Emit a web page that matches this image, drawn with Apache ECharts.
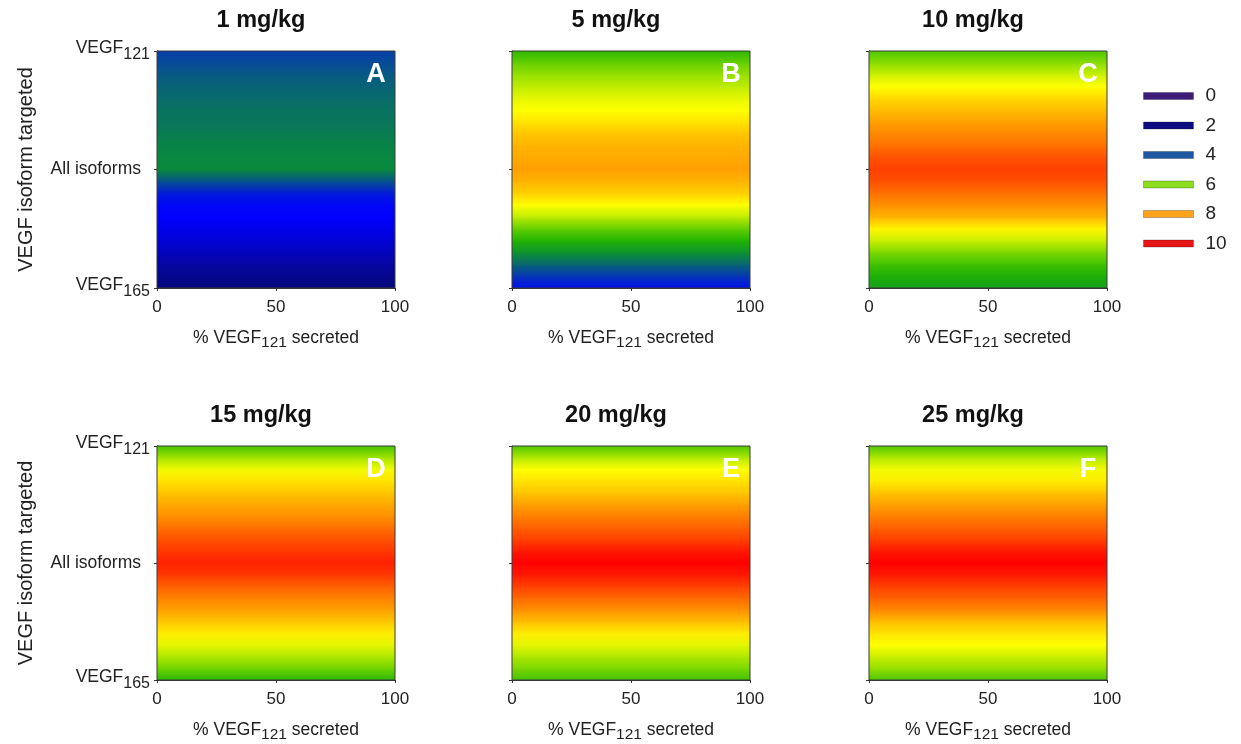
<!DOCTYPE html>
<html>
<head>
<meta charset="utf-8">
<script src="https://cdn.jsdelivr.net/npm/echarts@6.0.0/dist/echarts.min.js"></script>
<style>
  html, body { margin: 0; padding: 0; background: #fff; }
  #chart { width: 1241px; height: 744px; }
</style>
</head>
<body>
<div id="chart"></div>
<script>
// y position of each sampled row: 0 = VEGF165, 1 = all isoforms, 2 = VEGF121
const rowPos = [0, 0.1, 0.2, 0.3, 0.4, 0.5, 0.6, 0.7, 0.8, 0.9, 1.0,
                1.1, 1.2, 1.3, 1.4, 1.5, 1.6, 1.7, 1.8, 1.9, 2.0];

const doseNames = ['1 mg/kg', '5 mg/kg', '10 mg/kg', '15 mg/kg', '20 mg/kg', '25 mg/kg'];
const panelLetters = ['A', 'B', 'C', 'D', 'E', 'F'];

// values, bottom (VEGF165) to top (VEGF121)
const dose1  = [2.0, 2.15, 2.3, 2.5, 2.7, 2.85, 3.0, 3.05, 3.2, 3.6, 4.3,
                4.25, 4.2, 4.1, 4.0, 3.95, 3.85, 3.75, 3.65, 3.55, 3.45];
const dose5  = [3.1, 3.4, 3.8, 4.5, 5.2, 5.8, 6.5, 7.0, 7.5, 7.8, 8.0,
                7.9, 7.8, 7.6, 7.3, 7.0, 6.8, 6.5, 6.2, 5.8, 5.3];
const dose10 = [4.8, 5.1, 5.5, 6.0, 6.6, 7.1, 7.8, 8.2, 8.6, 9.0, 9.2,
                9.0, 8.6, 8.3, 8.0, 7.7, 7.4, 7.0, 6.6, 6.1, 5.6];
const dose15 = [5.3, 5.9, 6.4, 6.8, 7.2, 7.6, 8.0, 8.4, 8.8, 9.3, 9.6,
                9.3, 9.0, 8.6, 8.2, 7.9, 7.6, 7.3, 6.9, 6.3, 5.5];
const dose20 = [5.5, 6.0, 6.4, 6.8, 7.2, 7.7, 8.2, 8.7, 9.2, 9.7, 10.0,
                9.7, 9.2, 8.8, 8.4, 8.0, 7.6, 7.3, 7.0, 6.4, 5.6];
const dose25 = [5.6, 6.2, 6.6, 7.0, 7.3, 7.7, 8.3, 8.8, 9.2, 9.7, 10.0,
                9.7, 9.2, 8.8, 8.4, 8.0, 7.6, 7.2, 6.9, 6.4, 5.6];
const panelValues = [dose1, dose5, dose10, dose15, dose20, dose25];

const xTicks = [0, 50, 100];

const legendLevels = ['0', '2', '4', '6', '8', '10'];
const legendColors = ['#3c1c78', '#0e0e82', '#1f58a2', '#8cde1e', '#ffa31c', '#e81616'];

// colour scale used for the bands
const scaleVals   = [0, 2, 3, 3.7, 4.3, 5.2, 6, 7, 8, 9, 10];
const scaleColors = ['#3c1a78', '#06087a', '#0000ff', '#08607a', '#088a3c',
                     '#20b400', '#7cd800', '#ffff00', '#ffa000', '#ff5000', '#ff0000'];

function colorOf(v) {
  for (let i = 0; i < scaleVals.length - 1; i++) {
    if (v <= scaleVals[i + 1]) {
      const t = Math.max(0, (v - scaleVals[i]) / (scaleVals[i + 1] - scaleVals[i]));
      return echarts.color.lerp(t, [scaleColors[i], scaleColors[i + 1]]);
    }
  }
  return scaleColors[scaleColors.length - 1];
}

const FONT = '"Liberation Sans", Arial, sans-serif';
const gridLefts = [157, 512, 869];
const gridTops = [51, 446];
const W = 238, H = 237;

function renderBand(params, api) {
  const lo = api.coord([0, api.value(0)]);
  const hi = api.coord([100, api.value(1)]);
  return {
    type: 'rect',
    shape: { x: lo[0], y: hi[1] - 0.5, width: hi[0] - lo[0], height: lo[1] - hi[1] + 1 },
    style: {
      fill: new echarts.graphic.LinearGradient(0, 0, 0, 1, [
        { offset: 0, color: colorOf(api.value(3)) },
        { offset: 1, color: colorOf(api.value(2)) }
      ])
    }
  };
}

const grid = [], xAxis = [], yAxis = [], series = [], title = [];

panelValues.forEach((vals, k) => {
  const col = k % 3, row = Math.floor(k / 3);
  const left = gridLefts[col], top = gridTops[row];
  grid.push({ left: left, top: top, width: W, height: H, show: true, z: 5,
    backgroundColor: 'transparent', borderColor: '#3a3a3a', borderWidth: 1 });

  xAxis.push({
    gridIndex: k, type: 'value', min: xTicks[0], max: xTicks[xTicks.length - 1], interval: 50,
    splitLine: { show: false },
    axisLine: { lineStyle: { color: '#333' } },
    axisTick: { length: 3, lineStyle: { color: '#333' } },
    axisLabel: { margin: 11, fontSize: 17, color: '#222', fontFamily: FONT },
    name: '% VEGF{s|121} secreted', nameLocation: 'middle', nameGap: 38,
    nameTextStyle: { fontSize: 17.5, color: '#222', fontFamily: FONT,
      rich: { s: { fontSize: 15.5, fontFamily: FONT, color: '#222', padding: [9, 0, 0, 0], verticalAlign: 'top' } } }
  });

  const yLeft = col === 0;
  yAxis.push({
    gridIndex: k, type: 'value', min: 0, max: 2, interval: 1,
    splitLine: { show: false },
    axisLine: { lineStyle: { color: '#333' } },
    axisTick: { length: 3, lineStyle: { color: '#333' } },
    axisLabel: {
      show: yLeft, margin: 7, color: '#222', fontFamily: FONT,
      formatter: v => v === 0 ? '{t|VEGF}{s|165}' : v === 1 ? '{m|All isoforms}' : '{t|VEGF}{s|121}',
      rich: {
        t: { fontSize: 17.5, fontFamily: FONT, color: '#222', verticalAlign: 'top' },
        s: { fontSize: 16, fontFamily: FONT, color: '#222', padding: [8, 0, 0, 0], verticalAlign: 'top' },
        m: { fontSize: 17.5, fontFamily: FONT, color: '#222', padding: [0, 9, 0, 0] }
      }
    },
    name: yLeft ? 'VEGF isoform targeted' : '', nameLocation: 'middle', nameGap: 121,
    nameTextStyle: { fontSize: 20, color: '#222', fontFamily: FONT }
  });

  const bands = [];
  for (let i = 0; i < rowPos.length - 1; i++) {
    bands.push([rowPos[i], rowPos[i + 1], vals[i], vals[i + 1]]);
  }
  series.push({
    type: 'custom', xAxisIndex: k, yAxisIndex: k, clip: true, silent: true,
    renderItem: renderBand, data: bands
  });

  title.push({
    text: doseNames[k], left: left + W / 2 - 15, top: top - 42, textAlign: 'center', padding: 0,
    textStyle: { fontSize: 23.5, fontWeight: 'bold', color: '#111', fontFamily: FONT }
  });
  title.push({
    text: panelLetters[k], left: left + W - 19, top: top + 10, textAlign: 'center', padding: 0,
    textStyle: { fontSize: 27, fontWeight: 'bold', color: '#fff', fontFamily: FONT }
  });
});

// legend entries
legendLevels.forEach((name, i) => {
  series.push({
    type: 'line', name: name, xAxisIndex: 0, yAxisIndex: 0, data: [],
    itemStyle: { color: legendColors[i] }, lineStyle: { color: legendColors[i] }
  });
});

const chart = echarts.init(document.getElementById('chart'), null, { renderer: 'canvas' });
chart.setOption({
  animation: false,
  backgroundColor: '#fff',
  title: title,
  grid: grid,
  xAxis: xAxis,
  yAxis: yAxis,
  legend: {
    data: legendLevels, orient: 'vertical', left: 1143, top: 86, padding: 0,
    icon: 'rect', itemWidth: 50, itemHeight: 7, itemGap: 9.5, selectedMode: false,
    itemStyle: { borderColor: 'rgba(0,0,0,0.25)', borderWidth: 1 },
    textStyle: { fontSize: 19, lineHeight: 20, color: '#222', fontFamily: FONT, padding: [0, 0, 0, 7] }
  },
  series: series
});
</script>
</body>
</html>
